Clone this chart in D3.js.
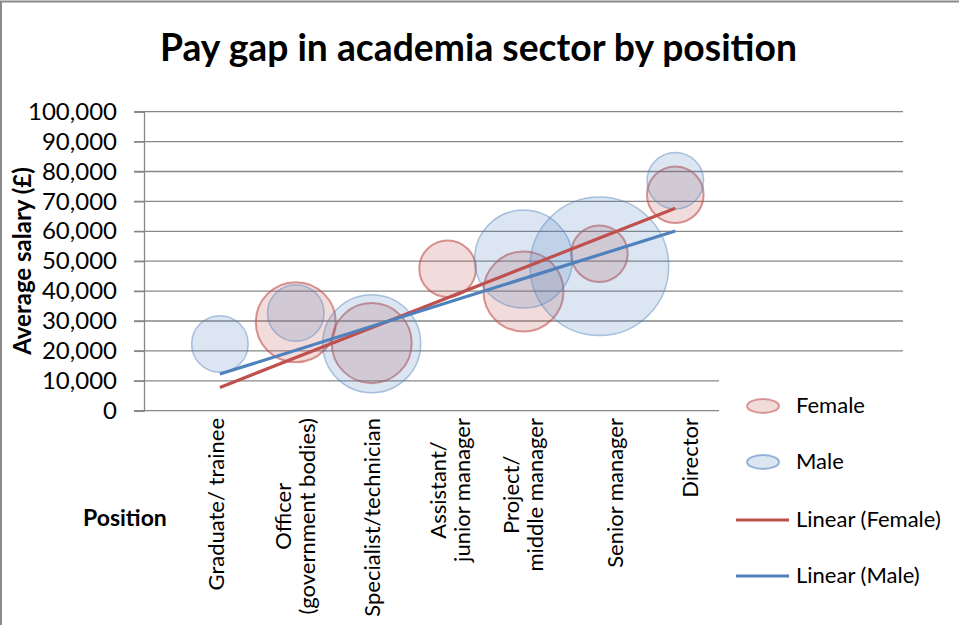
<!DOCTYPE html>
<html>
<head>
<meta charset="utf-8">
<script src="https://cdn.jsdelivr.net/npm/d3@7"></script>
<style>
  body { margin: 0; background: #fff; }
  text { font-family: Lato, "Open Sans", sans-serif; fill: #000; }
</style>
</head>
<body>
<svg id="chart" width="959" height="625"></svg>
<script>
// Data
const positions = [
  ["Graduate/ trainee"],
  ["Officer", "(government bodies)"],
  ["Specialist/technician"],
  ["Assistant/", "junior manager"],
  ["Project/", "middle manager"],
  ["Senior manager"],
  ["Director"]
];
const positionX = [1, 2, 3, 4, 5, 6, 7];
const femaleSalary = [0, 29600, 22600, 47500, 39900, 52500, 72200];
const femaleSize = [0, 2, 2, 1, 2, 1, 1];
const maleSalary = [22300, 32700, 22400, 0, 50700, 48300, 76900];
const maleSize = [1, 1, 3, 0, 3, 6, 1];
const yTicks = [0, 10000, 20000, 30000, 40000, 50000, 60000, 70000, 80000, 90000, 100000];

// label blocks were placed by hand in the original, nudge them the same way
const labelNudge = [-4, -1, 1, 3, 0, 16, 15];

const svg = d3.select("#chart");
const W = 959, H = 625;

svg.append("rect").attr("width", W).attr("height", H).attr("fill", "#fff");
// outer chart border (only top and left show in the frame)
svg.append("rect")
  .attr("x", 1).attr("y", 1.5).attr("width", W + 20).attr("height", H + 20)
  .attr("fill", "none").attr("stroke", "#8a8a8a").attr("stroke-width", 2);

const x = d3.scaleLinear().domain([0, 10]).range([144, 903]);
const y = d3.scaleLinear().domain([0, 100000]).range([410.7, 111.7]);
const r = d3.scaleSqrt().domain([0, 6]).range([0, 69.3]);

// gridlines
svg.append("g")
  .selectAll("line")
  .data(yTicks)
  .join("line")
  .attr("x1", 134).attr("x2", x(10))
  .attr("y1", d => y(d)).attr("y2", d => y(d))
  .attr("stroke", "#878787").attr("stroke-width", 1.3);

// y axis
const yAxis = svg.append("g")
  .attr("transform", `translate(${x(0)},0)`)
  .call(d3.axisLeft(y).tickValues(yTicks).tickSize(10).tickPadding(17).tickFormat(d3.format(",")));
yAxis.select(".domain").attr("stroke", "#878787").attr("stroke-width", 1.3);
yAxis.selectAll(".tick line").attr("stroke", "#878787").attr("stroke-width", 1.3);
yAxis.selectAll(".tick text")
  .attr("font-family", "Lato, sans-serif")
  .attr("font-size", 24)
  .attr("fill", "#222");

// bubbles
function bubbles(salary, size, color, strokeOpacity, strokeWidth) {
  const pts = positionX.map((px, i) => ({x: px, y: salary[i], s: size[i]})).filter(d => d.s > 0);
  svg.append("g")
    .selectAll("circle")
    .data(pts)
    .join("circle")
    .attr("cx", d => x(d.x))
    .attr("cy", d => y(d.y))
    .attr("r", d => r(d.s))
    .attr("fill", color).attr("fill-opacity", 0.2)
    .attr("stroke", color).attr("stroke-opacity", strokeOpacity)
    .attr("stroke-width", strokeWidth);
}
bubbles(femaleSalary, femaleSize, "#C0504D", 0.6, 2);
bubbles(maleSalary, maleSize, "#4F81BD", 0.45, 1.5);

// linear trendlines (least squares over every point, blanks count as 0 like Excel)
function trend(salary) {
  const mx = d3.mean(positionX), my = d3.mean(salary);
  const slope = d3.sum(positionX, (px, i) => (px - mx) * (salary[i] - my)) /
                d3.sum(positionX, px => (px - mx) * (px - mx));
  const b = my - slope * mx;
  const ends = d3.extent(positionX);
  return ends.map(px => [x(px), y(b + slope * px)]);
}
const line = d3.line();
svg.append("path").attr("d", line(trend(femaleSalary)))
  .attr("stroke", "#C0504D").attr("stroke-width", 3.2).attr("fill", "none");
svg.append("path").attr("d", line(trend(maleSalary)))
  .attr("stroke", "#4F81BD").attr("stroke-width", 3.2).attr("fill", "none");

// title
const title = svg.append("text")
  .attr("x", 478.5).attr("y", 61)
  .attr("text-anchor", "middle")
  .attr("font-weight", "bold")
  .attr("font-size", 34)
  .text("Pay gap in academia sector by position");
const tw = title.node().getComputedTextLength();
title.attr("font-size", 34 * 637 / tw);

// axis titles
svg.append("text")
  .attr("transform", "translate(31,261) rotate(-90)")
  .attr("text-anchor", "middle")
  .attr("font-weight", "bold")
  .attr("font-size", 24)
  .text("Average salary (£)");

svg.append("text")
  .attr("x", 83).attr("y", 526)
  .attr("font-weight", "bold")
  .attr("font-size", 23)
  .text("Position");

// category labels, rotated, reading bottom to top
const lineGap = 24;
positions.forEach((lines, i) => {
  const cx = x(positionX[i]) + labelNudge[i];
  const g = svg.append("g");
  const t = g.selectAll("text")
    .data(lines)
    .join("text")
    .attr("text-anchor", "middle")
    .attr("font-size", 22)
    .attr("dy", "0.35em")
    .text(d => d);
  const maxLen = d3.max(t.nodes(), n => n.getComputedTextLength());
  const cy = 418 + maxLen / 2;
  t.attr("transform", (d, j) => `translate(${cx + (j - (lines.length - 1) / 2) * lineGap},${cy}) rotate(-90)`);
});

// legend sits on a white box over the lower right of the plot
svg.append("rect")
  .attr("x", 719).attr("y", 368).attr("width", 240).attr("height", 257)
  .attr("fill", "#fff");

const legend = [
  {name: "Female", color: "#C0504D", type: "bubble", y: 406},
  {name: "Male", color: "#4F81BD", type: "bubble", y: 462},
  {name: "Linear (Female)", color: "#C0504D", type: "line", y: 520},
  {name: "Linear (Male)", color: "#4F81BD", type: "line", y: 576}
];
const lg = svg.append("g").selectAll("g").data(legend).join("g");
lg.filter(d => d.type === "bubble").append("ellipse")
  .attr("cx", 763).attr("cy", d => d.y).attr("rx", 16).attr("ry", 7)
  .attr("fill", d => d.color).attr("fill-opacity", 0.2)
  .attr("stroke", d => d.color).attr("stroke-opacity", 0.55).attr("stroke-width", 2);
lg.filter(d => d.type === "line").append("line")
  .attr("x1", 736).attr("x2", 789).attr("y1", d => d.y).attr("y2", d => d.y)
  .attr("stroke", d => d.color).attr("stroke-width", 3.2);
lg.append("text")
  .attr("x", 796).attr("y", d => d.y + 7)
  .attr("font-size", 22)
  .text(d => d.name);
</script>
</body>
</html>
